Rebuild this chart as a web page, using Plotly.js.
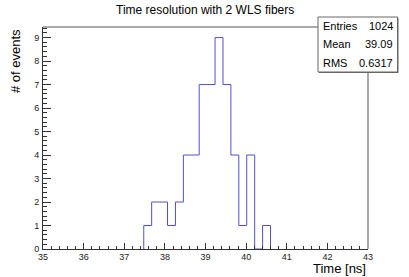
<!DOCTYPE html>
<html>
<head>
<meta charset="utf-8">
<script src="https://cdn.plot.ly/plotly-3.0.1.min.js"></script>
<style>
html,body{margin:0;padding:0;background:#fff;}
#chart{width:409px;height:277px;}
</style>
</head>
<body>
<div id="chart"></div>
<script>
// Histogram bin low edges (ns) and counts
var binEdges = [37.48, 37.675, 37.87, 38.065, 38.26, 38.455, 38.65, 38.845, 39.04, 39.235, 39.43, 39.625, 39.82, 40.015, 40.21, 40.405, 40.6];
var counts   = [1, 2, 2, 1, 2, 4, 4, 7, 7, 9, 7, 4, 1, 4, 0, 1];
var xTicks = [35, 36, 37, 38, 39, 40, 41, 42, 43];
var yTicks = [0, 1, 2, 3, 4, 5, 6, 7, 8, 9];
var statsLabels = ["Entries", "Mean", "RMS"];
var statsValues = ["1024", "39.09", "0.6317"];
var titleText = "Time resolution with 2 WLS fibers";
var xTitle = "Time [ns]";
var yTitle = "# of events";

// step outline: start at baseline, go through bins, back to baseline
var sx = [binEdges[0]], sy = [0];
for (var i = 0; i < counts.length; i++) { sx.push(binEdges[i]); sy.push(counts[i]); }
sx.push(binEdges[binEdges.length - 1]); sy.push(counts[counts.length - 1]);
sx.push(binEdges[binEdges.length - 1]); sy.push(0);

var FONT = "Liberation Sans, Arial, sans-serif";
var trace = {
  x: sx, y: sy, type: "scatter", mode: "lines",
  line: {shape: "hv", color: "#5050cc", width: 1},
  hoverinfo: "skip", showlegend: false
};

var L = 43, R = 41, T = 27, B = 28, W = 409, H = 277;
var pw = W - L - R, ph = H - T - B;
function px(x) { return (x - L) / pw; }
function py(y) { return (H - B - y) / ph; }

var shapes = [
  // frame top and right
  {type: "line", xref: "paper", yref: "paper", x0: 0, x1: 1, y0: 1, y1: 1, line: {color: "#555", width: 1}},
  {type: "line", xref: "paper", yref: "paper", x0: 1, x1: 1, y0: 0, y1: 1, line: {color: "#555", width: 1}},
  // stats box shadow + box
  {type: "rect", xref: "paper", yref: "paper", x0: px(319), x1: px(398.5), y0: py(73), y1: py(18), line: {width: 0}, fillcolor: "#666", layer: "above"},
  {type: "rect", xref: "paper", yref: "paper", x0: px(318), x1: px(397.5), y0: py(72), y1: py(17), line: {color: "#666", width: 1}, fillcolor: "#fff", layer: "above"}
];

var annotations = [
  {text: titleText, xref: "paper", yref: "paper", x: px(205), y: py(10), xanchor: "center", yanchor: "middle", showarrow: false, font: {family: FONT, size: 12, color: "#000"}},
  {text: xTitle, xref: "paper", yref: "paper", x: 1, y: py(268.5), xanchor: "right", yanchor: "middle", showarrow: false, font: {family: FONT, size: 13, color: "#000"}},
  {text: yTitle, xref: "paper", yref: "paper", x: px(15), y: 1, xanchor: "center", yanchor: "top", textangle: -90, showarrow: false, font: {family: FONT, size: 13, color: "#000"}}
];
var rowsY = [26, 44.5, 63];
for (var k = 0; k < statsLabels.length; k++) {
  annotations.push({text: statsLabels[k], xref: "paper", yref: "paper", x: px(321), y: py(rowsY[k]), xanchor: "left", yanchor: "middle", showarrow: false, font: {family: FONT, size: 11, color: "#000"}});
  annotations.push({text: statsValues[k], xref: "paper", yref: "paper", x: px(395), y: py(rowsY[k]), xanchor: "right", yanchor: "middle", showarrow: false, font: {family: FONT, size: 11, color: "#000"}});
}

var layout = {
  width: W, height: H,
  margin: {l: L, r: R, t: T, b: B, pad: 0},
  paper_bgcolor: "#fff", plot_bgcolor: "#fff",
  font: {family: FONT, size: 9, color: "#222"},
  xaxis: {
    range: [35, 43], tickvals: xTicks, ticktext: xTicks.map(String),
    ticks: "inside", ticklen: 6, tickcolor: "#333", tickwidth: 1,
    showline: true, linecolor: "#333", linewidth: 1, showgrid: false, zeroline: false,
    minor: {dtick: 0.2, ticklen: 3, ticks: "inside", tickcolor: "#333", showgrid: false},
    tickfont: {family: FONT, size: 9, color: "#222"}, ticklabelstandoff: -1, fixedrange: true
  },
  yaxis: {
    range: [0, 9.45], tickvals: yTicks, ticktext: yTicks.map(String),
    ticks: "inside", ticklen: 8, tickcolor: "#333", tickwidth: 1,
    showline: true, linecolor: "#333", linewidth: 1, showgrid: false, zeroline: false,
    minor: {dtick: 0.2, ticklen: 4, ticks: "inside", tickcolor: "#333", showgrid: false},
    tickfont: {family: FONT, size: 9, color: "#222"}, ticklabelstandoff: 1, fixedrange: true
  },
  shapes: shapes,
  annotations: annotations
};

Plotly.newPlot("chart", [trace], layout, {displayModeBar: false, staticPlot: true});
</script>
</body>
</html>
